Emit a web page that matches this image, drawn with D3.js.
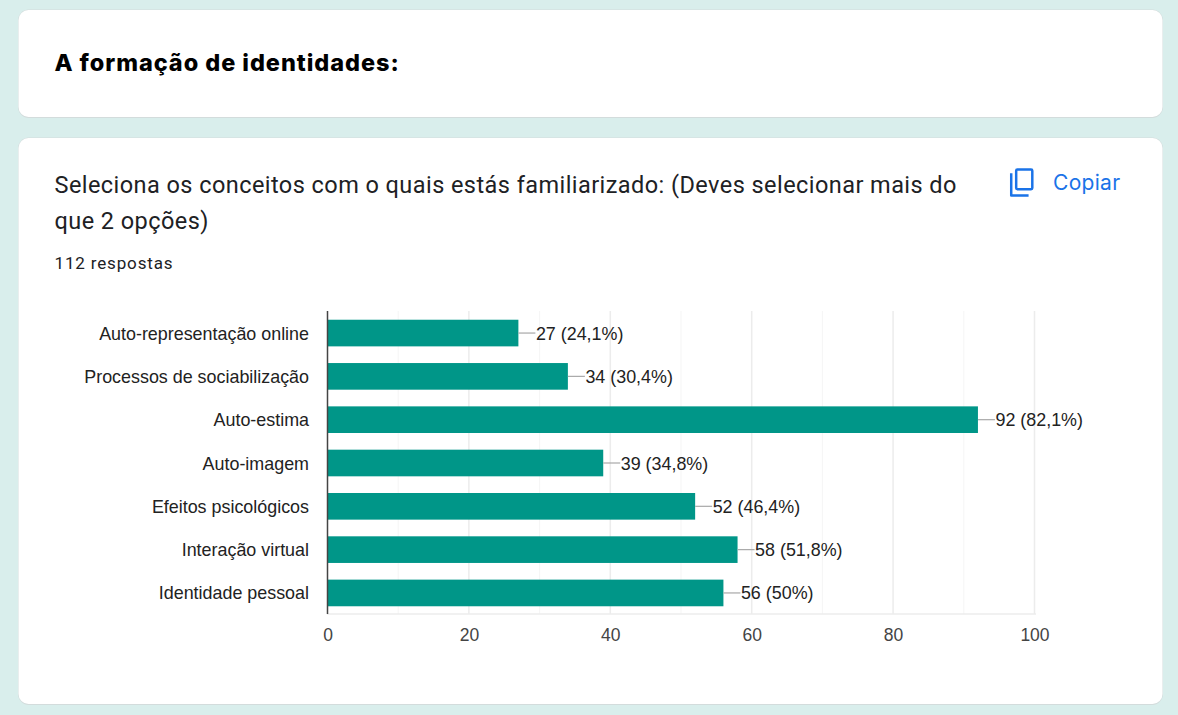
<!DOCTYPE html>
<html><head><meta charset="utf-8">
<script src="https://cdnjs.cloudflare.com/ajax/libs/d3/7.8.5/d3.min.js"></script>
<style>html,body{margin:0;padding:0;background:#d9eeec;overflow:hidden}svg{display:block}</style>
</head><body><div id="c"></div>
<script>
const categories=["Auto-representação online","Processos de sociabilização","Auto-estima","Auto-imagem","Efeitos psicológicos","Interação virtual","Identidade pessoal"];
const values=[27,34,92,39,52,58,56];
const percents=["24,1%","30,4%","82,1%","34,8%","46,4%","51,8%","50%"];
const axisTicks=[0,20,40,60,80,100];
const gridTicks=[10,20,30,40,50,60,70,80,90,100];
const heading="A formação de identidades:";
const questionLines=["Seleciona os conceitos com o quais estás familiarizado: (Deves selecionar mais do","que 2 opções)"];
const responses="112 respostas";
const copyLabel="Copiar";
const W=1178,H=715;
const svg=d3.select("#c").append("svg").attr("width",W).attr("height",H);
svg.append("rect").attr("width",W).attr("height",H).attr("fill","#d9eeec");
function card(x,y,w,h){
  svg.append("rect").attr("x",x-.5).attr("y",y-.5).attr("width",w+1).attr("height",h+1.5).attr("rx",11).attr("fill","#d3dcdc");
  svg.append("rect").attr("x",x).attr("y",y).attr("width",w).attr("height",h).attr("rx",10).attr("fill","#fff");
}
card(18.5,10,1144,107);
card(18.5,138,1144,566);
svg.append("text").attr("x",54.5).attr("y",71).attr("font-family","Inter").attr("font-weight",800).attr("font-size",23.5).attr("letter-spacing",0.95).attr("fill","#000").text(heading);
questionLines.forEach((t,i)=>svg.append("text").attr("x",54.5).attr("y",193+i*36).attr("font-family","Roboto").attr("font-size",23.5).attr("letter-spacing",0.44).attr("fill","#202124").text(t));
svg.append("text").attr("x",54.5).attr("y",269).attr("font-family","Roboto").attr("font-size",17).attr("letter-spacing",0.85).attr("fill","#202124").text(responses);
// copy icon
const ic=svg.append("g").attr("transform","translate(1007.5,167) scale(1.24)").attr("fill","#1a73e8");
ic.append("path").attr("d","M4 5 H2 V23 Q2 24 3 24 H17 V22 H4 Z M8 1 Q6 1 6 3 V17 Q6 19 8 19 H19 Q21 19 21 17 V3 Q21 1 19 1 Z M8 3 H19 V17 H8 Z").attr("fill-rule","evenodd");
svg.append("text").attr("x",1053).attr("y",190).attr("font-family","Inter").attr("font-size",21).attr("font-weight",400).attr("letter-spacing",0.3).attr("fill","#1a73e8").text(copyLabel);

const x=d3.scaleLinear().domain([0,100]).range([327.5,1034.5]);
const y=d3.scaleBand().domain(categories).range([311.5,614.5]).paddingInner(0.385).paddingOuter(0.19);
const g=svg.append("g");
g.selectAll("line.g").data(gridTicks).join("line").attr("x1",d=>x(d)).attr("x2",d=>x(d)).attr("y1",311).attr("y2",614)
 .attr("stroke",d=>d%20==0?"#ececec":"#f5f5f5").attr("stroke-width",d=>d%20==0?1.5:1);
g.append("line").attr("x1",327).attr("x2",1036).attr("y1",614).attr("y2",614).attr("stroke","#ececec").attr("stroke-width",1.5);
g.selectAll("rect.b").data(values).join("rect").attr("x",x(0)).attr("y",(d,i)=>y(categories[i])).attr("width",d=>x(d)-x(0)).attr("height",y.bandwidth()).attr("fill","#009688");
g.append("line").attr("x1",x(0)).attr("x2",x(0)).attr("y1",311).attr("y2",614).attr("stroke","#444").attr("stroke-width",1.5);
const font="Liberation Sans";
g.selectAll("line.l").data(values).join("line").attr("x1",d=>x(d)).attr("x2",d=>x(d)+17).attr("y1",(d,i)=>y(categories[i])+y.bandwidth()/2).attr("y2",(d,i)=>y(categories[i])+y.bandwidth()/2).attr("stroke","#a8a8a8").attr("stroke-width",1.2);
g.selectAll("text.v").data(values).join("text").attr("x",d=>x(d)+17.5).attr("y",(d,i)=>y(categories[i])+y.bandwidth()/2+6.5).attr("font-family",font).attr("font-size",17.9).attr("fill","#222")
 .text((d,i)=>`${d} (${percents[i]})`);
g.selectAll("text.c").data(categories).join("text").attr("x",309).attr("y",d=>y(d)+y.bandwidth()/2+6.5).attr("text-anchor","end").attr("font-family",font).attr("font-size",17.9).attr("fill","#222").text(d=>d);
g.selectAll("text.t").data(axisTicks).join("text").attr("x",d=>x(d)+.5).attr("y",640.5).attr("text-anchor","middle").attr("font-family",font).attr("font-size",17.5).attr("fill","#444").text(d=>d);
</script></body></html>
